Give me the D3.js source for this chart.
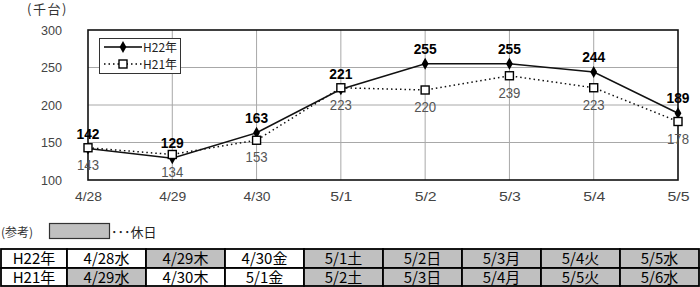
<!DOCTYPE html>
<html><head><meta charset="utf-8">
<script src="https://cdn.jsdelivr.net/npm/d3@7"></script>
<style>
html,body{margin:0;padding:0;background:#fff;}
svg{display:block;}
text{font-family:"Liberation Sans","DejaVu Sans",sans-serif;}
.jp{font-family:"Noto Sans CJK JP",sans-serif;}
</style></head>
<body><svg id="c" width="700" height="287"></svg>
<script>
const categories = ["4/28","4/29","4/30","5/1","5/2","5/3","5/4","5/5"];
const h22 = [142,129,163,221,255,255,244,189];
const h21 = [143,134,153,223,220,239,223,178];
const yTicks = [100,150,200,250,300];
const seriesNames = ["H22年","H21年"];
const rowH22 = ["4/28水","4/29木","4/30金","5/1土","5/2日","5/3月","5/4火","5/5水"];
const rowH21 = ["4/29水","4/30木","5/1金","5/2土","5/3日","5/4月","5/5火","5/6水"];
const holH22 = [false,true,false,true,true,true,true,true];
const holH21 = [true,false,false,true,true,true,true,true];

const svg = d3.select("#c");
const L=88,R=678,T=30,B=180;
const x = d3.scalePoint().domain(categories).range([L,R]).padding(0);
const y = d3.scaleLinear().domain([100,300]).range([B,T]);

// grid
const g = svg.append("g");
g.selectAll(".hg").data(yTicks.slice(1,-1)).join("line")
  .attr("x1",L).attr("x2",R).attr("y1",d=>y(d)).attr("y2",d=>y(d))
  .attr("stroke","#a8a8a8").attr("stroke-width",1);
g.selectAll(".vg").data(categories.slice(1,-1)).join("line")
  .attr("x1",d=>x(d)).attr("x2",d=>x(d)).attr("y1",T).attr("y2",B)
  .attr("stroke","#a8a8a8").attr("stroke-width",1);
g.append("rect").attr("x",L).attr("y",T).attr("width",R-L).attr("height",B-T)
  .attr("fill","none").attr("stroke","#111").attr("stroke-width",1.6);

// y axis labels
const ya = svg.append("g").attr("transform",`translate(${L},0)`)
  .call(d3.axisLeft(y).tickValues(yTicks).tickSize(0).tickPadding(26));
ya.select(".domain").remove();
ya.selectAll("text").attr("font-size",13).attr("fill","#444")
  .attr("textLength",21).attr("lengthAdjust","spacingAndGlyphs");

// x axis labels
const xa = svg.append("g").attr("transform",`translate(0,${B})`)
  .call(d3.axisBottom(x).tickSize(0).tickPadding(12));
xa.select(".domain").remove();
xa.selectAll("text").attr("font-size",13).attr("fill","#444")
  .attr("textLength",d=>d.length>3?27:22).attr("lengthAdjust","spacingAndGlyphs");

svg.append("text").attr("class","jp").attr("x",27).attr("y",14).attr("font-size",13)
  .attr("fill","#333").attr("letter-spacing",1.5).text("(千台)");

// lines
const line = d3.line().x((d,i)=>x(categories[i])).y(d=>y(d));
svg.append("path").datum(h21).attr("d",line).attr("fill","none").attr("stroke","#111")
  .attr("stroke-width",1.5).attr("stroke-dasharray","1.5,3");
svg.append("path").datum(h22).attr("d",line).attr("fill","none").attr("stroke","#111").attr("stroke-width",1.5);

const diamond = d3.symbol().type(d3.symbolDiamond).size(40);
svg.selectAll(".m22").data(h22).join("path")
  .attr("transform",(d,i)=>`translate(${x(categories[i])},${y(d)})`)
  .attr("d",diamond).attr("fill","#000");
svg.selectAll(".m21").data(h21).join("rect")
  .attr("x",(d,i)=>x(categories[i])-4).attr("y",d=>y(d)-4).attr("width",8).attr("height",8)
  .attr("fill","#fff").attr("stroke","#000").attr("stroke-width",1.4);

// labels
svg.selectAll(".l22").data(h22).join("text")
  .attr("x",(d,i)=>x(categories[i])).attr("y",d=>y(d)-10).attr("text-anchor","middle")
  .attr("font-size",15).attr("font-weight","bold").attr("fill","#000")
  .attr("textLength",23).attr("lengthAdjust","spacingAndGlyphs").text(d=>d);
svg.selectAll(".l21").data(h21).join("text")
  .attr("x",(d,i)=>x(categories[i])).attr("y",d=>y(d)+22).attr("text-anchor","middle")
  .attr("font-size",14).attr("fill","#555")
  .attr("textLength",22).attr("lengthAdjust","spacingAndGlyphs").text(d=>d);

// legend
const lg = svg.append("g");
lg.append("rect").attr("x",99.5).attr("y",38.5).attr("width",81).attr("height",35)
  .attr("fill","#fff").attr("stroke","#333").attr("stroke-width",1);
lg.append("line").attr("x1",104).attr("x2",142).attr("y1",47).attr("y2",47).attr("stroke","#000").attr("stroke-width",1.5);
lg.append("path").attr("transform","translate(123,47)").attr("d",diamond).attr("fill","#000");
lg.append("line").attr("x1",104).attr("x2",142).attr("y1",64).attr("y2",64).attr("stroke","#000").attr("stroke-width",1.5).attr("stroke-dasharray","1.5,3");
lg.append("rect").attr("x",119).attr("y",60).attr("width",8).attr("height",8).attr("fill","#fff").attr("stroke","#000").attr("stroke-width",1.4);
lg.selectAll(".lt").data(seriesNames).join("text").attr("class","jp")
  .attr("x",143).attr("y",(d,i)=>i?69:52).attr("font-size",12).attr("fill","#222").text(d=>d);

// reference
svg.append("text").attr("class","jp").attr("x",1).attr("y",237).attr("font-size",12).attr("fill","#333").text("(参考)");
svg.append("rect").attr("x",49.5).attr("y",223.5).attr("width",60).attr("height",15)
  .attr("fill","#c0c0c0").attr("stroke","#333").attr("stroke-width",1.2);
svg.append("text").attr("class","jp").attr("x",111).attr("y",237).attr("font-size",13).attr("fill","#222").text("･･･休日");

// table
const colX = [1,67,146,225,304,383,462,541,620,699];
const rowY = [249,268,286];
const rows = [{label:seriesNames[0],cells:rowH22,hol:holH22},{label:seriesNames[1],cells:rowH21,hol:holH21}];
const tg = svg.append("g");
rows.forEach((r,ri)=>{
  const cells = [{t:r.label,h:false}].concat(r.cells.map((t,i)=>({t:t,h:r.hol[i]})));
  cells.forEach((c,ci)=>{
    tg.append("rect").attr("x",colX[ci]).attr("y",rowY[ri]).attr("width",colX[ci+1]-colX[ci]).attr("height",rowY[ri+1]-rowY[ri])
      .attr("fill",c.h?"#c0c0c0":"#fff").attr("stroke","#000").attr("stroke-width",1.8);
    tg.append("text").attr("class","jp").attr("x",(colX[ci]+colX[ci+1])/2).attr("y",rowY[ri]+15)
      .attr("text-anchor","middle").attr("font-size",15).attr("fill","#000").text(c.t);
  });
});
</script></body></html>
